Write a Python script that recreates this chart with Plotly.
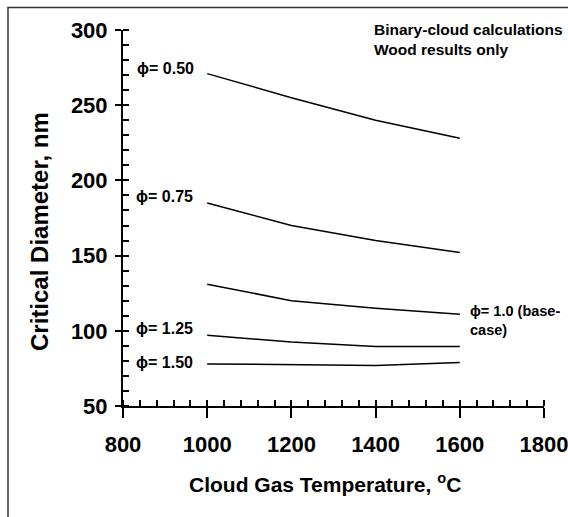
import plotly.graph_objects as go

# Cloud gas temperature (°C) and critical diameter (nm) for each equivalence ratio
temperature = [1000, 1200, 1400, 1600]
d_phi_050 = [271, 255, 240, 228]
d_phi_075 = [185, 170, 160, 152]
d_phi_100 = [131, 120, 115, 111]
d_phi_125 = [97, 92.5, 89.5, 89.5]
d_phi_150 = [78, 77.5, 77, 79]

series = [d_phi_050, d_phi_075, d_phi_100, d_phi_125, d_phi_150]

FONT = "Liberation Sans, Arial, sans-serif"

fig = go.Figure()
for ys in series:
    fig.add_trace(go.Scatter(x=temperature, y=ys, mode="lines",
                             line=dict(color="black", width=1.5),
                             showlegend=False, hoverinfo="skip"))

# Curve labels
labels = [
    ("ϕ= 0.50", 829, 274.6, 16),
    ("ϕ= 0.75", 827, 189.0, 16),
    ("ϕ= 1.25", 827, 101.8, 16),
    ("ϕ= 1.50", 826, 78.8, 16),
    ("ϕ= 1.0 (base-<br>case)", 1620, 107.0, 14.5),
]
for text, x, y, size in labels:
    fig.add_annotation(x=x, y=y, text=text, showarrow=False, xanchor="left",
                       yanchor="middle", align="left",
                       font=dict(family=FONT, size=size, color="black", weight="bold"))

fig.add_annotation(x=1392, y=294, text="Binary-cloud calculations<br>Wood results only",
                   showarrow=False, xanchor="left", yanchor="middle", align="left",
                   font=dict(family=FONT, size=15.5, color="black", weight="bold"))

# Axis titles
fig.add_annotation(xref="paper", yref="paper", x=0.48, y=-0.205,
                   text="Cloud Gas Temperature, <sup>o</sup>C", showarrow=False,
                   xanchor="center", yanchor="middle",
                   font=dict(family=FONT, size=21, color="black", weight="bold"))
fig.add_annotation(xref="paper", yref="paper", x=-0.197, y=0.463,
                   text="Critical Diameter, nm", showarrow=False, textangle=-90,
                   xanchor="center", yanchor="middle",
                   font=dict(family=FONT, size=24, color="black", weight="bold"))

# Outer frame
fig.add_shape(type="rect", xref="paper", yref="paper",
              x0=(8 - 123) / 421, x1=(580 - 123) / 421,
              y0=(406 - 530) / 376, y1=(406 - 7.5) / 376,
              line=dict(color="#333333", width=1.5), fillcolor="rgba(0,0,0,0)", layer="below")

tickfont = dict(family=FONT, size=22, color="black", weight="bold")

fig.update_layout(
    width=568, height=517,
    margin=dict(l=123, r=24, t=30, b=111, autoexpand=False),
    paper_bgcolor="white", plot_bgcolor="white",
    xaxis=dict(range=[800, 1800], tick0=800, dtick=200, showgrid=False, zeroline=False,
               showline=True, linecolor="black", linewidth=2, automargin=False,
               ticks="outside", ticklen=10, tickwidth=2, tickcolor="black",
               ticklabelstandoff=8, tickfont=tickfont, ticklabeloverflow="allow",
               minor=dict(ticks="inside", dtick=40, ticklen=6, tickwidth=1.5,
                          tickcolor="black", showgrid=False)),
    yaxis=dict(range=[50, 300], tick0=50, dtick=50, showgrid=False, zeroline=False,
               showline=True, linecolor="black", linewidth=2, automargin=False,
               ticks="outside", ticklen=6, tickwidth=2, tickcolor="black",
               ticklabelstandoff=3, tickfont=tickfont, ticklabeloverflow="allow",
               minor=dict(ticks="inside", dtick=10, ticklen=6, tickwidth=1.5,
                          tickcolor="black", showgrid=False)),
    # inner halves of the major ticks
    xaxis2=dict(overlaying="x", range=[800, 1800], tick0=800, dtick=200, side="bottom",
                showgrid=False, zeroline=False, showline=False, showticklabels=False,
                automargin=False,
                ticks="inside", ticklen=6, tickwidth=2, tickcolor="black", anchor="y"),
    yaxis2=dict(overlaying="y", range=[50, 300], tick0=50, dtick=50, side="left",
                showgrid=False, zeroline=False, showline=False, showticklabels=False,
                automargin=False,
                ticks="inside", ticklen=6, tickwidth=2, tickcolor="black", anchor="x"),
)
# a blank trace on the secondary axes so they render
fig.add_trace(go.Scatter(x=[None], y=[None], xaxis="x2", yaxis="y2",
                         showlegend=False, hoverinfo="skip"))

fig.write_html("out.html")
